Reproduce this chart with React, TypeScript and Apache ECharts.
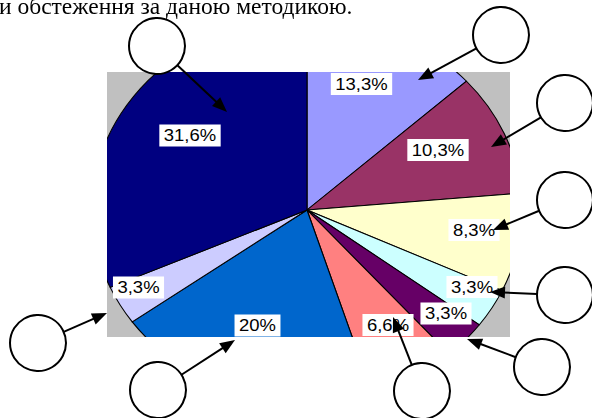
import { useEffect, useRef } from 'react';
import * as echarts from 'echarts';

// ---- data ----
const topCaption = 'и обстеження за даною методикою.';
const sliceNames = ['1', '2', '3', '4', '5', '6', '7', '8', '9'];
const sliceValues = [13.3, 10.3, 8.3, 3.3, 3.3, 6.6, 20, 3.3, 31.6];

// ---- styles / layout ----
const sliceColors = ['#9999FF', '#993366', '#FFFFCC', '#CCFFFF', '#660066', '#FF8080', '#0066CC', '#CCCCFF', '#000080'];
const labelAnchors = [
  [361.5, 84], [438, 150], [474, 230], [472, 287], [446, 313.5],
  [388, 325], [257.5, 325.5], [138.5, 287.5], [190, 135.5],
];
const circleCenters = [
  [157, 46], [501, 35], [565, 103], [565, 200], [565, 295],
  [542, 367], [422, 391], [158, 390], [38, 343],
];
const arrowTips = [
  [227, 112], [418, 80], [491, 147], [493, 230], [490, 292],
  [467, 339], [393, 317], [235, 340], [107, 313],
];
const CX = 307;
const CY = 210;
const SX = 1.12;
const R = 192;
const CIRCLE_R = 28;

export default function App() {
  const pieRef = useRef<HTMLDivElement>(null);
  const overRef = useRef<HTMLDivElement>(null);

  useEffect(() => {
    const pie = echarts.init(pieRef.current!, null, { renderer: 'svg' });
    const over = echarts.init(overRef.current!, null, { renderer: 'svg' });

    pie.setOption({
      animation: false,
      series: [
        {
          type: 'pie',
          center: [CX, CY],
          radius: R,
          startAngle: 90,
          clockwise: true,
          avoidLabelOverlap: false,
          silent: true,
          itemStyle: { borderColor: '#000', borderWidth: 1 },
          label: {
            show: true,
            position: 'inside',
            formatter: (p: any) => String(p.value).replace('.', ',') + '%',
            fontFamily: 'Liberation Sans',
            fontSize: 16.5,
            color: '#000',
            backgroundColor: '#fff',
            padding: [3, 4, 2, 4],
          },
          labelLine: { show: false },
          labelLayout: (params: any) => {
            const a = labelAnchors[params.dataIndex];
            return {
              x: CX + (a[0] - CX) / SX,
              y: a[1],
              align: 'center',
              verticalAlign: 'middle',
            };
          },
          data: sliceValues.map((v, i) => ({
            name: sliceNames[i],
            value: v,
            itemStyle: { color: sliceColors[i] },
          })),
        },
      ],
    });

    const graphics: any[] = [
      {
        type: 'text',
        x: -1,
        y: 6,
        style: {
          text: topCaption,
          fontFamily: 'Liberation Serif',
          fontSize: 23.5,
          fill: '#000',
          verticalAlign: 'middle',
        },
      },
    ];
    circleCenters.forEach((c, i) => {
      const t = arrowTips[i];
      const dx = t[0] - c[0];
      const dy = t[1] - c[1];
      const len = Math.sqrt(dx * dx + dy * dy);
      const ux = dx / len;
      const uy = dy / len;
      const sx = c[0] + ux * CIRCLE_R;
      const sy = c[1] + uy * CIRCLE_R;
      const L = 15;
      const W = 6;
      const bx = t[0] - ux * L;
      const by = t[1] - uy * L;
      graphics.push({
        type: 'circle',
        shape: { cx: c[0], cy: c[1], r: CIRCLE_R },
        style: { fill: '#fff', stroke: '#000', lineWidth: 2 },
      });
      graphics.push({
        type: 'line',
        shape: { x1: sx, y1: sy, x2: bx + ux * 2, y2: by + uy * 2 },
        style: { stroke: '#000', lineWidth: 2 },
      });
      graphics.push({
        type: 'polygon',
        shape: {
          points: [
            [t[0], t[1]],
            [bx - uy * W, by + ux * W],
            [bx + uy * W, by - ux * W],
          ],
        },
        style: { fill: '#000' },
      });
    });

    over.setOption({ animation: false, graphic: graphics });

    return () => {
      pie.dispose();
      over.dispose();
    };
  }, []);

  return (
    <>
      <div
        style={{
          position: 'fixed',
          left: 107,
          top: 72,
          width: 403,
          height: 265,
          overflow: 'hidden',
          background: '#c0c0c0',
        }}
      >
        <div
          ref={pieRef}
          style={{
            position: 'absolute',
            left: -107,
            top: -72,
            width: 592,
            height: 418,
            transform: `scaleX(${SX})`,
            transformOrigin: `${CX}px ${CY}px`,
          }}
        />
      </div>
      <div
        ref={overRef}
        style={{ position: 'fixed', left: 0, top: 0, width: 592, height: 418, pointerEvents: 'none' }}
      />
    </>
  );
}
